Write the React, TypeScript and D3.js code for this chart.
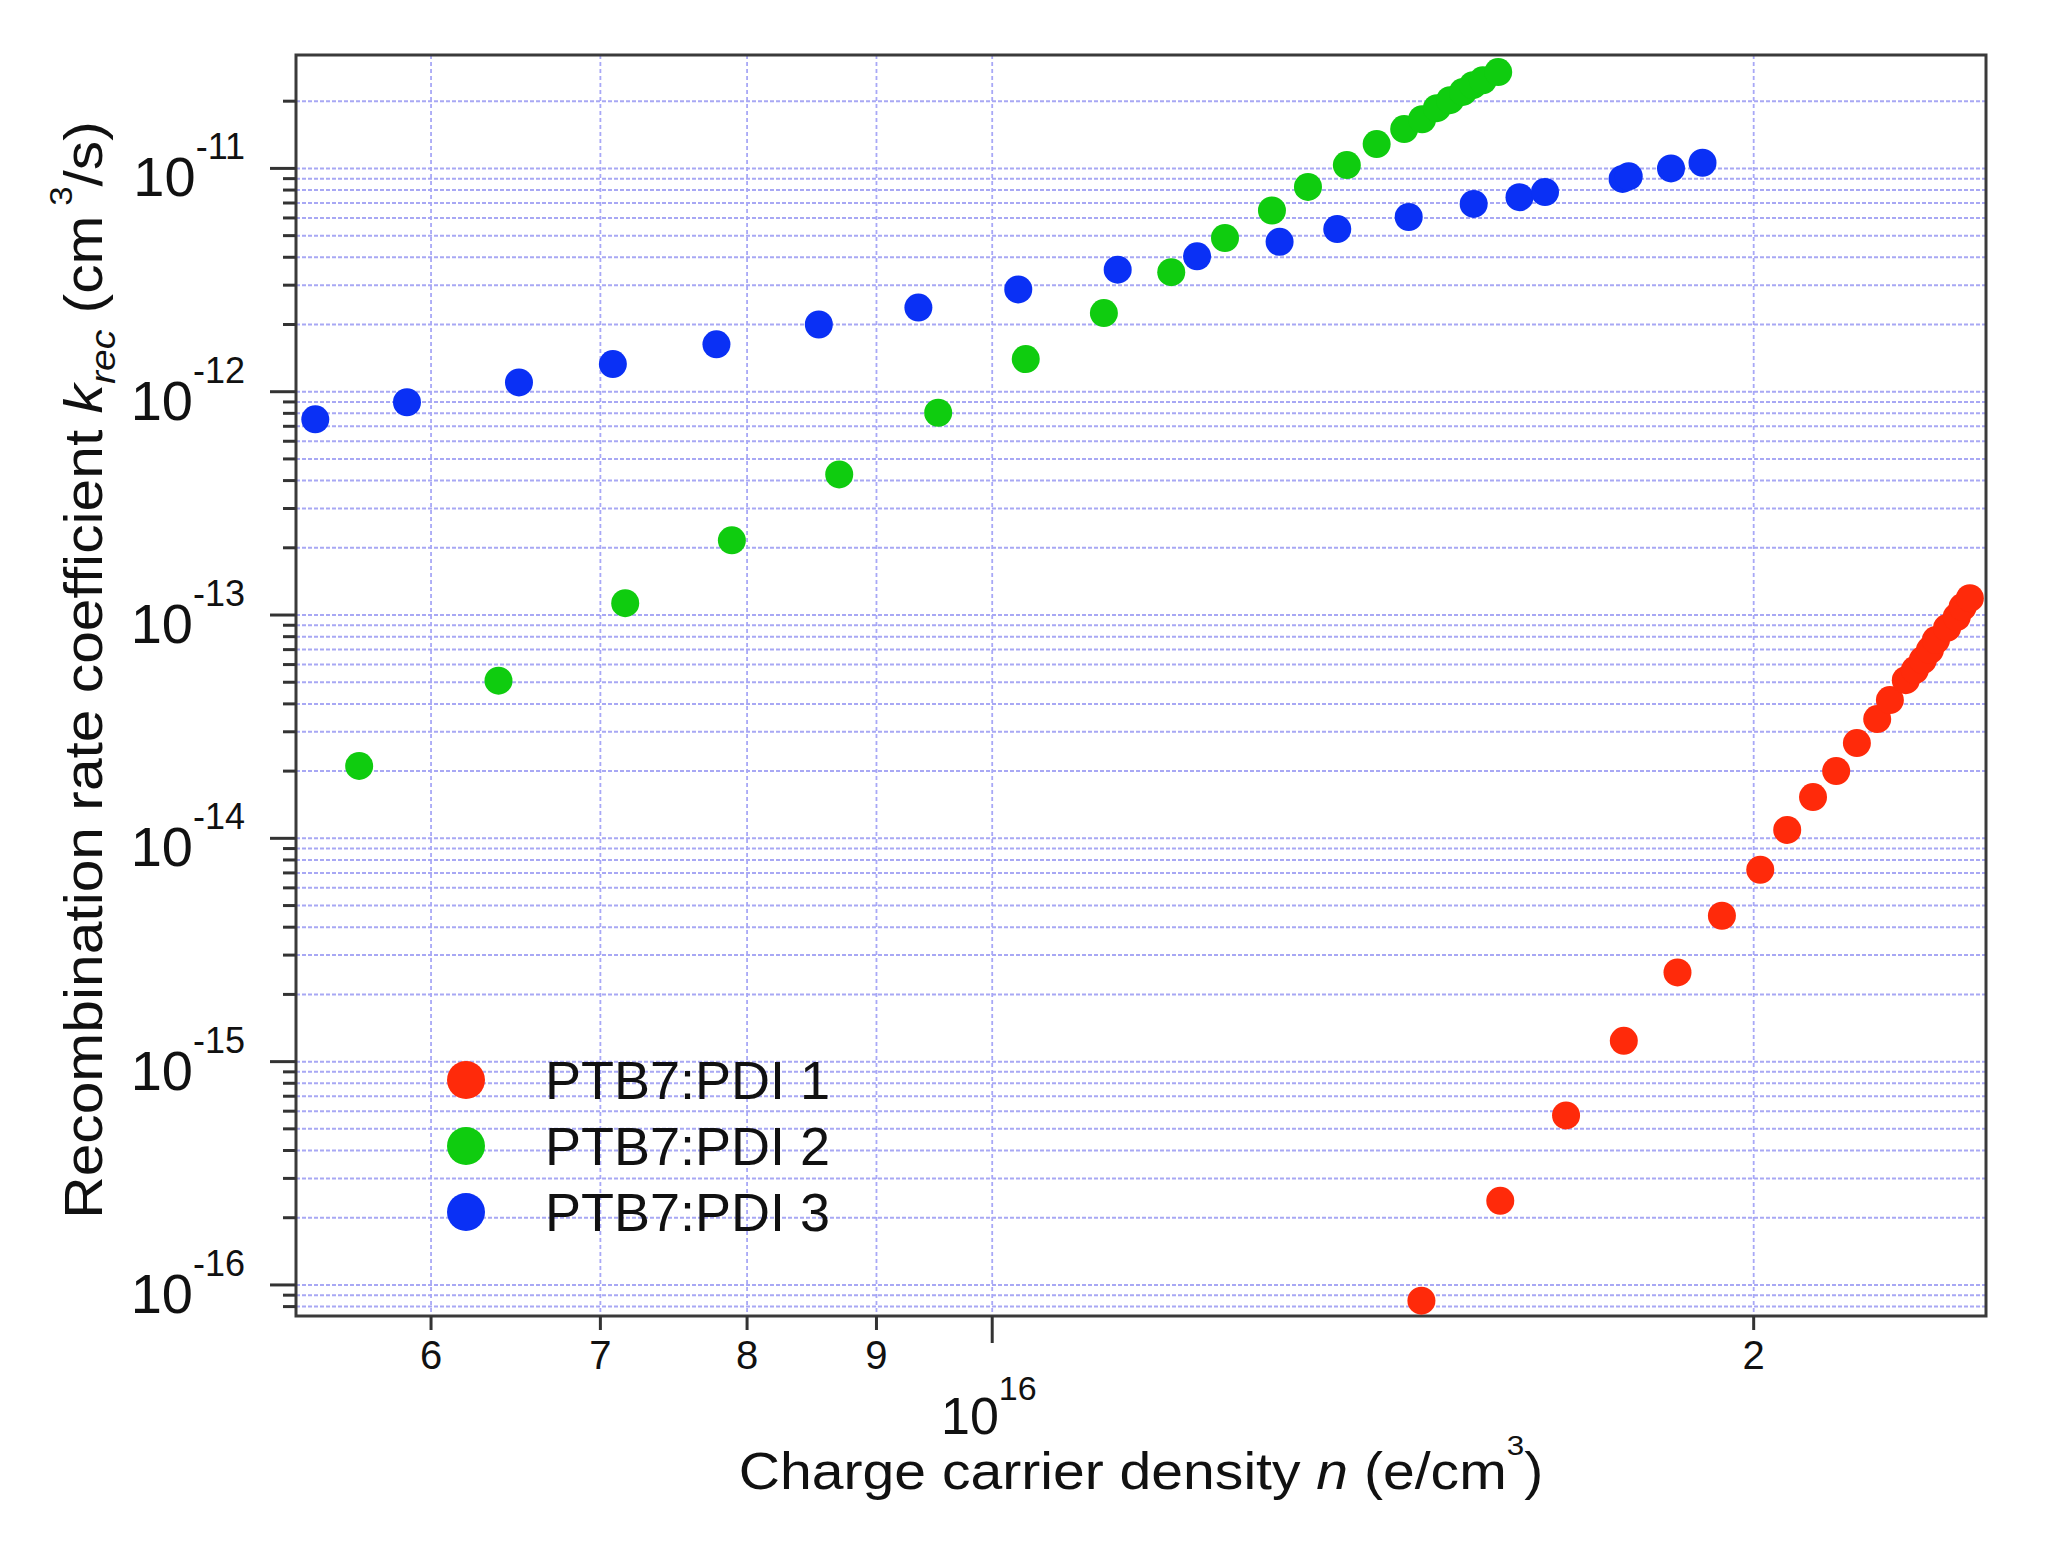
import React from 'react';
import * as d3 from 'd3';

// 数据
const seriesNames = ['PTB7:PDI 1', 'PTB7:PDI 2', 'PTB7:PDI 3'];
const seriesColors = ['#ff2a0a', '#0fcc0f', '#0a30f5'];

const redX = [1.478e16, 1.588e16, 1.686e16, 1.777e16, 1.866e16, 1.943e16, 2.012e16, 2.062e16, 2.111e16, 2.156e16, 2.197e16, 2.238e16, 2.264e16, 2.297e16, 2.316e16, 2.333e16, 2.348e16, 2.361e16, 2.385e16, 2.406e16, 2.419e16, 2.435e16];
const redY = [8.5e-17, 2.38e-16, 5.74e-16, 1.24e-15, 2.51e-15, 4.5e-15, 7.23e-15, 1.09e-14, 1.53e-14, 2.0e-14, 2.67e-14, 3.42e-14, 4.16e-14, 5.11e-14, 5.67e-14, 6.29e-14, 6.97e-14, 7.73e-14, 8.75e-14, 9.8e-14, 1.086e-13, 1.19e-13];

const greenX = [5.62e15, 6.38e15, 7.16e15, 7.89e15, 8.70e15, 9.52e15, 1.031e16, 1.107e16, 1.177e16, 1.236e16, 1.290e16, 1.333e16, 1.381e16, 1.419e16, 1.455e16, 1.479e16, 1.499e16, 1.517e16, 1.535e16, 1.549e16, 1.563e16, 1.585e16];
const greenY = [2.11e-14, 5.08e-14, 1.13e-13, 2.16e-13, 4.26e-13, 8.05e-13, 1.40e-12, 2.25e-12, 3.43e-12, 4.88e-12, 6.48e-12, 8.26e-12, 1.035e-11, 1.285e-11, 1.50e-11, 1.66e-11, 1.86e-11, 2.02e-11, 2.20e-11, 2.36e-11, 2.48e-11, 2.70e-11];

const blueX = [5.40e15, 5.87e15, 6.50e15, 7.08e15, 7.78e15, 8.54e15, 9.35e15, 1.024e16, 1.121e16, 1.205e16, 1.299e16, 1.369e16, 1.461e16, 1.550e16, 1.616e16, 1.654e16, 1.775e16, 1.785e16, 1.855e16, 1.909e16];
const blueY = [7.52e-13, 8.97e-13, 1.10e-12, 1.33e-12, 1.63e-12, 2.0e-12, 2.38e-12, 2.87e-12, 3.52e-12, 4.04e-12, 4.69e-12, 5.35e-12, 6.06e-12, 6.93e-12, 7.43e-12, 7.84e-12, 8.97e-12, 9.22e-12, 1.0e-11, 1.06e-11];

const xTickValues = [6e15, 7e15, 8e15, 9e15, 1e16, 2e16];
const xTickLabels = ['6', '7', '8', '9', '', '2'];
const yDecades = [-11, -12, -13, -14, -15, -16];

const W = 2061;
const H = 1542;
const left = 296, right = 1986, top = 55, bottom = 1316;
const FONT = '"Liberation Sans", Arial, Helvetica, sans-serif';

const x = d3.scaleLog().domain([5.306e15, 2.471e16]).range([left, right]);
const y = d3.scaleLog().domain([7.26e-17, 3.22e-11]).range([bottom, top]);

const App: React.FC = () => {
  const series = [
    { xs: redX, ys: redY },
    { xs: greenX, ys: greenY },
    { xs: blueX, ys: blueY },
  ];

  // y ticks: 1..9 x 10^k, skip the ones sitting on the frame
  const yTicks = y.ticks().filter(v => y(v) > top + 8 && y(v) < bottom - 8);
  const isMajor = (v: number) => Math.abs(Math.log10(v) - Math.round(Math.log10(v))) < 1e-6;

  return (
    <svg width={W} height={H} style={{ position: 'absolute', left: 0, top: 0, background: '#fff' }}
      fontFamily={FONT}>
      <rect x={0} y={0} width={W} height={H} fill="#fff" />

      {/* grid */}
      {yTicks.map((v, i) => (
        <line key={'gy' + i} x1={left} x2={right} y1={y(v)} y2={y(v)}
          stroke="#a8a8f4" strokeWidth={2} strokeDasharray="4 2" />
      ))}
      {xTickValues.map((v, i) => (
        <line key={'gx' + i} x1={x(v)} x2={x(v)} y1={top} y2={bottom}
          stroke="#a8a8f6" strokeWidth={1.8} strokeDasharray="4 3" />
      ))}

      {/* frame */}
      <rect x={left} y={top} width={right - left} height={bottom - top}
        fill="none" stroke="#3a3a3a" strokeWidth={3} />

      {/* y ticks */}
      {yTicks.map((v, i) => (
        <line key={'ty' + i} x1={left - (isMajor(v) ? 26 : 13)} x2={left} y1={y(v)} y2={y(v)}
          stroke="#333" strokeWidth={3} />
      ))}
      {yDecades.map(k => (
        <text key={'ly' + k} x={245} y={y(Math.pow(10, k)) + 28} textAnchor="end" fill="#111">
          <tspan fontSize={56}>10</tspan>
          <tspan fontSize={36} dy={-37}>{'-' + Math.abs(k)}</tspan>
        </text>
      ))}

      {/* x ticks */}
      {xTickValues.map((v, i) => (
        <g key={'tx' + i}>
          <line x1={x(v)} x2={x(v)} y1={bottom} y2={bottom + (xTickLabels[i] === '' ? 27 : 14)}
            stroke="#333" strokeWidth={3} />
          {xTickLabels[i] !== '' && (
            <text x={x(v)} y={1369} textAnchor="middle" fontSize={40} fill="#111">{xTickLabels[i]}</text>
          )}
        </g>
      ))}
      <text x={941} y={1434} fill="#111">
        <tspan fontSize={52}>10</tspan>
        <tspan fontSize={34} dy={-34}>16</tspan>
      </text>

      {/* axis titles */}
      <text transform="translate(1141,1489) scale(1.12,1)" textAnchor="middle" fontSize={51} fill="#111">
        <tspan>Charge carrier density </tspan>
        <tspan fontStyle="italic">n</tspan>
        <tspan> (e/cm</tspan>
        <tspan fontSize={28} dy={-34}>3</tspan>
        <tspan dy={34}>)</tspan>
      </text>
      <text transform="translate(102,670) rotate(-90) scale(1.088,1)" textAnchor="middle" fontSize={54} fill="#111">
        <tspan>Recombination rate coefficient </tspan>
        <tspan fontStyle="italic">k</tspan>
        <tspan fontStyle="italic" fontSize={36} dy={13}>rec</tspan>
        <tspan dy={-13}> (cm</tspan>
        <tspan fontSize={32} dy={-30}> 3</tspan>
        <tspan dy={30}>/s)</tspan>
      </text>

      {/* points */}
      {series.map((s, si) => (
        <g key={'s' + si} fill={seriesColors[si]}>
          {s.xs.map((xv, j) => (
            <circle key={j} cx={x(xv)} cy={y(s.ys[j])} r={14} />
          ))}
        </g>
      ))}

      {/* legend */}
      {seriesNames.map((name, i) => (
        <g key={'lg' + i}>
          <circle cx={466} cy={1080 + i * 66} r={19} fill={seriesColors[i]} />
          <text x={545} y={1099 + i * 66} fontSize={54} fill="#111">{name}</text>
        </g>
      ))}
    </svg>
  );
};

export default App;
